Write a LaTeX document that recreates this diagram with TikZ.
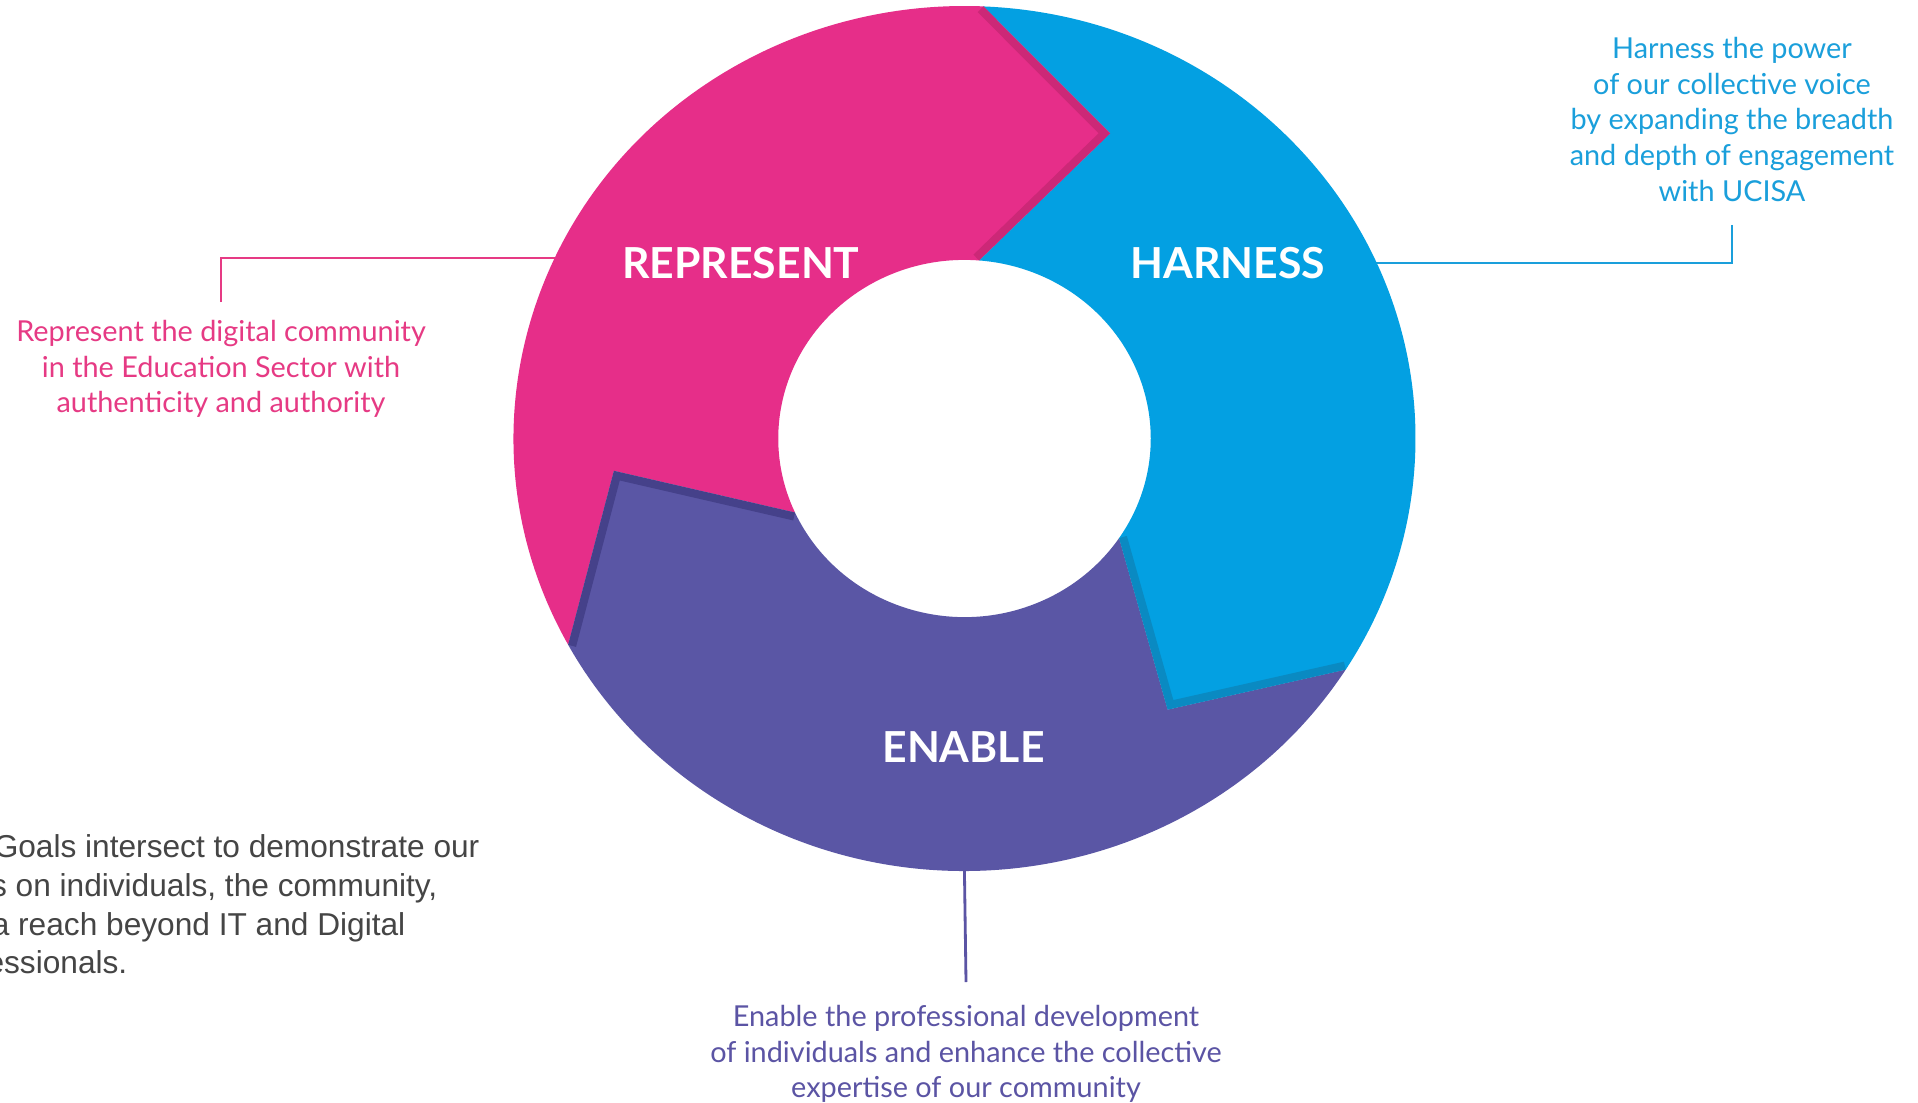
\documentclass[tikz,border=0pt]{standalone}
\usepackage{fontspec}
\setmainfont{Lato}
\newfontfamily\arialfont{Liberation Sans}
\definecolor{pinkc}{HTML}{E62E89}
\definecolor{pinkd}{HTML}{CC2877}
\definecolor{bluec}{HTML}{03A0E2}
\definecolor{blued}{HTML}{0A8AC2}
\definecolor{purc}{HTML}{5A56A5}
\definecolor{purd}{HTML}{45418A}
\definecolor{pinkt}{HTML}{E63A84}
\definecolor{bluet}{HTML}{1A9FDB}
\definecolor{purt}{HTML}{5B54A4}
\definecolor{grayt}{HTML}{454545}
\tikzset{
  lbl/.style={font=\fontsize{12.15}{15}\selectfont\bfseries, text=white, inner sep=0pt},
  capt/.style={font=\fontsize{8.2}{10.1}\selectfont, align=center, inner sep=0pt},
  grayline/.style={font=\arialfont\fontsize{9}{11}\selectfont, text=grayt, inner sep=0pt, anchor=base east},
  conn/.style={line width=0.8pt},
  edgeband/.style={line width=4.6pt, line join=miter}
}
\begin{document}
\begin{tikzpicture}[x=0.01cm,y=-0.01cm]
\fill[white] (0,0) rectangle (1918,1103);
\useasboundingbox (0,0) rectangle (1918,1103);
\clip (0,0) rectangle (1918,1103);

% captions
\node[capt, text=pinkt, anchor=north] (pcap) at (221,320)
  {Represent the digital community\\in the Education Sector with\\authenticity and authority};
\node[capt, text=bluet, anchor=north] (bcap) at (1732,37)
  {Harness the power\\of our collective voice\\by expanding the breadth\\and depth of engagement\\with UCISA};
\node[capt, text=purt, anchor=north] (ecap) at (966,1005)
  {Enable the professional development\\of individuals and enhance the collective\\expertise of our community};

% connectors (drawn under the ring)
\coordinate (pkB) at (640,258);
\coordinate (blB) at (1300,263);
\coordinate (puB) at (964,840);
\draw[conn, draw=pinkt] (pcap.north) ++(0,-18) |- (pkB);
\draw[conn, draw=bluet] (bcap.south) ++(0,23) |- (blB);
\draw[conn, draw=purt] (ecap.north) ++(0,-23) -- (puB);

% ring
\begin{scope}[shift={(964.5,438.5)}, xscale=451, yscale=432.5]
  \def\pinkpath{(151.5:1) arc[start angle=151.5, end angle=272.4, radius=1] -- (294.6:0.776) -- (274.5:0.413) arc[start angle=274.5, end angle=155.5, radius=0.413] -- (174.5:0.781) -- cycle}
  \def\bluepath{(272.4:1) arc[start angle=272.4, end angle=392.3, radius=1] -- (414.3:0.772) -- (393.9:0.413) arc[start angle=393.9, end angle=274.5, radius=0.413] -- (294.6:0.776) -- cycle}
  \def\purpath{(32.3:1) arc[start angle=32.3, end angle=151.5, radius=1] -- (174.5:0.781) -- (155.5:0.413) arc[start angle=155.5, end angle=33.9, radius=0.413] -- (54.3:0.772) -- cycle}
  \fill[pinkc] \pinkpath;
  \fill[bluec] \bluepath;
  \fill[purc] \purpath;
  \begin{scope}
    \clip \pinkpath;
    \draw[edgeband, pinkd] (272.4:1) -- (294.6:0.776) -- (274.5:0.413);
  \end{scope}
  \begin{scope}
    \clip \bluepath;
    \draw[edgeband, blued] (32.3:1) -- (54.3:0.772) -- (33.9:0.413);
  \end{scope}
  \begin{scope}
    \clip \purpath;
    \draw[edgeband, purd] (151.5:1) -- (174.5:0.781) -- (155.5:0.413);
  \end{scope}
\end{scope}

% segment labels
\node[lbl] (rep) at (741,263) {REPRESENT};
\node[lbl] (har) at (1228,263) {HARNESS};
\node[lbl] (ena) at (963.5,747) {ENABLE};

% paragraph at bottom left, cut by the picture's left edge as in the reference
\node[grayline] (g1) at (480,857.5) {Goals intersect to demonstrate our};
\node[grayline] (g2) at (438,896.6) {s on individuals, the community,};
\node[grayline] (g3) at (406,935.7) {a reach beyond IT and Digital};
\node[grayline] (g4) at (128,973.7) {essionals.};
\end{tikzpicture}
\end{document}
